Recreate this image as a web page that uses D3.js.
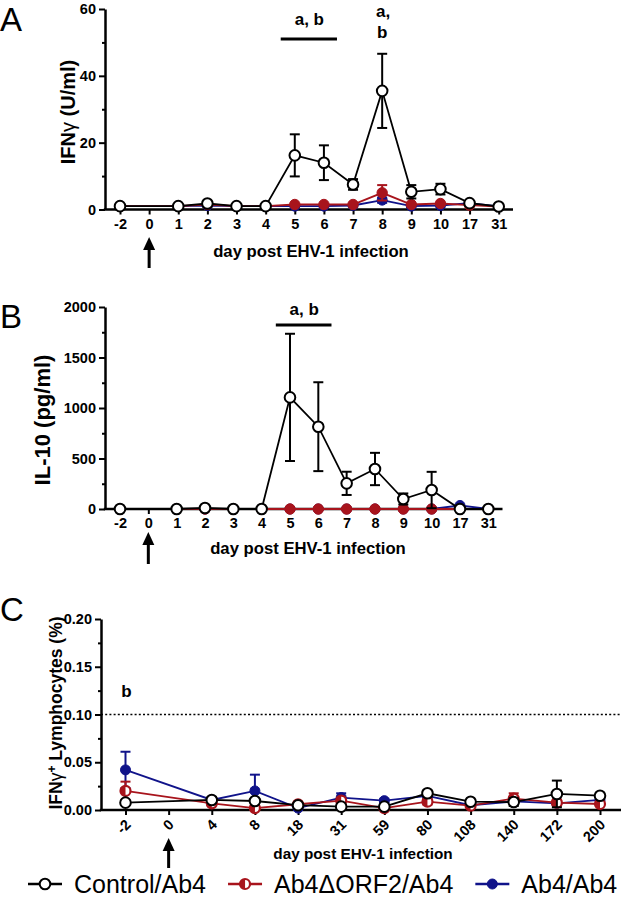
<!DOCTYPE html>
<html><head><meta charset="utf-8">
<script src="https://cdn.jsdelivr.net/npm/d3@7"></script>
<style>
body{margin:0;background:#fff}
svg{display:block}
text{font-family:"Liberation Sans",Arial,sans-serif}
</style>
</head><body>
<svg id="chart" width="625" height="903"></svg>
<script>
// ---------- DATA ----------
const daysAB = ["-2","0","1","2","3","4","5","6","7","8","9","10","17","31"];
const daysC  = ["-2","0","4","8","18","31","59","80","108","140","172","200"];

// Panel A: IFNγ (U/ml)
const ifnControl    = [1.0, null, 1.0, 1.8, 1.0, 1.0, 16.2, 14.0, 7.5, 35.5, 5.3, 6.1, 1.9, 0.9];
const ifnControlErr = [0, null, 0, 0, 0, 0, 6.3, 5.2, 1.6, 11.1, 2.0, 1.6, 0, 0];
const ifnOrf2       = [1.0, null, 1.0, 1.5, 1.0, 1.0, 1.5, 1.5, 1.5, 5.0, 1.5, 1.8, 1.3, 0.9];
const ifnOrf2Err    = [0, null, 0, 0, 0, 0, 0, 0, 0, 2.3, 0, 0, 0, 0];
const ifnAb4        = [1.0, null, 1.0, 1.2, 1.0, 1.0, 1.0, 1.0, 1.2, 2.8, 1.0, 1.2, 1.9, 0.9];
const ifnAb4Err     = [0, null, 0, 0, 0, 0, 0, 0, 0, 0.8, 0, 0, 0, 0];
const ticksA = [0, 20, 40, 60];
const minorA = [10, 30, 50];

// Panel B: IL-10 (pg/ml)
const il10Control    = [0, null, 0, 10, 0, 0, 1105, 815, 254, 396, 99, 188, 0, 0];
const il10ControlErr = [0, null, 0, 0, 0, 0, 630, 440, 115, 160, 55, 180, 0, 0];
const il10Orf2       = [0, null, 0, 0, 0, 0, 0, 0, 0, 0, 0, 0, 0, 0];
const il10Orf2Err    = [0, null, 0, 0, 0, 0, 0, 0, 0, 0, 0, 0, 0, 0];
const il10Ab4        = [0, null, 0, 0, 0, 0, 0, 0, 0, 0, 0, 0, 35, 0];
const il10Ab4Err     = [0, null, 0, 0, 0, 0, 0, 0, 0, 0, 0, 0, 0, 0];
const ticksB = [0, 500, 1000, 1500, 2000];
const minorB = [250, 750, 1250, 1750];

// Panel C: IFNγ+ lymphocytes (%)
const lymControl    = [0.0077, null, 0.0105, 0.0094, 0.005, 0.0035, 0.0035, 0.0175, 0.0087, 0.0083, 0.0168, 0.015];
const lymControlErr = [0.001, null, 0.003, 0.002, 0.001, 0.001, 0.001, 0.003, 0.001, 0.004, 0.014, 0.002];
const lymOrf2       = [0.020, null, 0.007, 0.002, 0.006, 0.0098, 0.002, 0.0087, 0.0045, 0.012, 0.0077, 0.0063];
const lymOrf2Err    = [0.0097, null, 0.002, 0.003, 0.001, 0.003, 0.001, 0.003, 0.001, 0.0055, 0.003, 0.002];
const lymAb4        = [0.042, null, 0.0105, 0.020, 0.002, 0.013, 0.0098, 0.0147, 0.005, 0.009, 0.007, 0.0105];
const lymAb4Err     = [0.019, null, 0.003, 0.017, 0.002, 0.0045, 0.002, 0.003, 0.001, 0.002, 0.002, 0.002];
const ticksC = [0, 0.05, 0.10, 0.15, 0.20];
const minorC = [0.025, 0.075, 0.125, 0.175];
const thresholdC = 0.10;

const legendLabels = ["Control/Ab4", "Ab4\u0394ORF2/Ab4", "Ab4/Ab4"];

// ---------- STYLE ----------
const RED = "#a8141c", BLUE = "#10138a", BLACK = "#000";
const svg = d3.select("#chart");

function halfMarker(g, cx, cy, r, color, sw) {
  g.append("circle").attr("cx", cx).attr("cy", cy).attr("r", r)
    .attr("fill", "#fff").attr("stroke", color).attr("stroke-width", sw);
  g.append("path")
    .attr("d", `M${cx},${cy - r} A${r},${r} 0 0 0 ${cx},${cy + r} Z`)
    .attr("fill", color);
}

function drawMarker(g, kind, cx, cy, solidRed) {
  if (kind === "control") {
    g.append("circle").attr("cx", cx).attr("cy", cy).attr("r", 5.3)
      .attr("fill", "#fff").attr("stroke", BLACK).attr("stroke-width", 2);
  } else if (kind === "orf2") {
    if (solidRed) {
      g.append("circle").attr("cx", cx).attr("cy", cy).attr("r", 5.2)
        .attr("fill", RED).attr("stroke", RED).attr("stroke-width", 1);
    } else {
      halfMarker(g, cx, cy, 5, RED, 2.2);
    }
  } else {
    g.append("circle").attr("cx", cx).attr("cy", cy).attr("r", 5)
      .attr("fill", BLUE).attr("stroke", BLUE).attr("stroke-width", 1);
  }
}

function drawPanel(cfg) {
  const g = svg.append("g");
  const x = d3.scalePoint().domain(cfg.days).range(cfg.xRange);
  const y = d3.scaleLinear().domain(cfg.yDomain).range(cfg.yRange);

  // y axis
  const ya = g.append("g").attr("transform", `translate(${cfg.axisX0},0)`)
    .call(d3.axisLeft(y).tickValues(cfg.yTicks).tickSize(6).tickSizeOuter(0)
      .tickPadding(3).tickFormat(cfg.yFormat));
  ya.select(".domain").attr("stroke-width", 2.5).attr("stroke", BLACK);
  ya.selectAll(".tick line").attr("stroke-width", 2).attr("stroke", BLACK);
  ya.selectAll(".tick text").attr("font-size", 14.5).attr("font-weight", "bold")
    .attr("fill", BLACK).style("font-family", '"Liberation Sans",Arial,sans-serif');
  const ym = g.append("g").attr("transform", `translate(${cfg.axisX0},0)`)
    .call(d3.axisLeft(y).tickValues(cfg.yMinor).tickSize(3).tickFormat(""));
  ym.select(".domain").remove();
  ym.selectAll(".tick line").attr("stroke-width", 2).attr("stroke", BLACK);

  // x axis
  const y0 = y(0);
  g.append("line").attr("x1", cfg.axisX0 - 1.2).attr("x2", cfg.axisX1)
    .attr("y1", y0).attr("y2", y0).attr("stroke", BLACK).attr("stroke-width", 2.5);
  const xa = g.append("g").attr("transform", `translate(0,${y0})`)
    .call(d3.axisBottom(x).tickSize(5).tickSizeOuter(0).tickPadding(4));
  xa.select(".domain").remove();
  xa.selectAll(".tick line").attr("stroke-width", 2).attr("stroke", BLACK);
  const xt = xa.selectAll(".tick text").attr("font-size", 14.5).attr("font-weight", "bold")
    .attr("fill", BLACK).style("font-family", '"Liberation Sans",Arial,sans-serif');
  if (cfg.rotate) {
    xt.attr("text-anchor", "end").attr("x", 0).attr("y", 0).attr("dy", "0.35em")
      .attr("transform", "translate(2,12) rotate(-45)");
  }

  // threshold line
  if (cfg.threshold != null) {
    g.append("line").attr("x1", cfg.axisX0).attr("x2", cfg.axisX1)
      .attr("y1", y(cfg.threshold)).attr("y2", y(cfg.threshold))
      .attr("stroke", BLACK).attr("stroke-width", 1.6).attr("stroke-dasharray", "2,2.2");
  }

  // series
  const line = d3.line().x(d => x(d.day)).y(d => y(d.v));
  cfg.series.forEach(s => {
    const pts = cfg.days.map((day, i) => ({day, v: s.values[i], e: s.errs[i]}))
      .filter(d => d.v != null);
    const sg = g.append("g");
    pts.filter(d => d.e > 0).forEach(d => {
      const cx = x(d.day);
      const top = y(d.v + d.e), bot = y(Math.max(0, d.v - d.e));
      sg.append("line").attr("x1", cx).attr("x2", cx).attr("y1", top).attr("y2", bot)
        .attr("stroke", s.color).attr("stroke-width", 2);
      [top, bot].forEach(yy => sg.append("line").attr("x1", cx - 5).attr("x2", cx + 5)
        .attr("y1", yy).attr("y2", yy).attr("stroke", s.color).attr("stroke-width", 2));
    });
    sg.append("path").datum(pts).attr("d", line).attr("fill", "none")
      .attr("stroke", s.color).attr("stroke-width", 1.8);
    pts.forEach(d => drawMarker(sg, s.kind, x(d.day), y(d.v), cfg.solidRed));
  });

  // axis titles
  g.append("text").attr("x", cfg.titleX).attr("y", cfg.titleY).attr("text-anchor", "middle")
    .attr("font-size", cfg.titleSize).attr("font-weight", "bold").text("day post EHV-1 infection");
  const yl = g.append("text").attr("transform", `translate(${cfg.ylabX},${cfg.ylabY}) rotate(-90)`)
    .attr("text-anchor", "middle").attr("font-size", cfg.ylabSize).attr("font-weight", "bold");
  cfg.ylab(yl);

  // panel letter
  svg.append("text").attr("x", 0).attr("y", cfg.letterY).attr("font-size", 33)
    .text(cfg.letter);

  // infection arrow at day 0
  const ax = x("0");
  g.append("line").attr("x1", ax).attr("x2", ax).attr("y1", cfg.arrowTop + 10).attr("y2", cfg.arrowBot)
    .attr("stroke", BLACK).attr("stroke-width", 3);
  g.append("path").attr("d", `M${ax},${cfg.arrowTop} L${ax - 6},${cfg.arrowTop + 13} L${ax + 6},${cfg.arrowTop + 13} Z`)
    .attr("fill", BLACK);

  return {g, x, y};
}

// ---------- PANEL A ----------
const pA = drawPanel({
  letter: "A", letterY: 30.5, solidRed: true,
  days: daysAB, xRange: [120, 498.7], axisX0: 105, axisX1: 513,
  yDomain: [0, 60], yRange: [209.5, 9], yTicks: ticksA, yMinor: minorA, yFormat: d3.format("d"),
  series: [
    {kind: "ab4", color: BLUE, values: ifnAb4, errs: ifnAb4Err},
    {kind: "orf2", color: RED, values: ifnOrf2, errs: ifnOrf2Err},
    {kind: "control", color: BLACK, values: ifnControl, errs: ifnControlErr}
  ],
  titleX: 311, titleY: 257, titleSize: 16.7,
  ylabX: 75, ylabY: 112, ylabSize: 20,
  ylab: t => { t.append("tspan").text("IFN"); t.append("tspan").attr("font-weight", "normal").text("\u03b3"); t.append("tspan").text(" (U/ml)"); },
  arrowTop: 237, arrowBot: 268
});
pA.g.append("line").attr("x1", (pA.x("5") + pA.x("4")) / 2 + 0.5).attr("x2", (pA.x("6") + pA.x("7")) / 2 - 1.5)
  .attr("y1", 39).attr("y2", 39).attr("stroke", BLACK).attr("stroke-width", 3);
pA.g.append("text").attr("x", (pA.x("5") + pA.x("6")) / 2).attr("y", 25).attr("text-anchor", "middle")
  .attr("font-size", 17).attr("font-weight", "bold").text("a, b");
pA.g.append("text").attr("x", pA.x("8") + 1).attr("y", 17).attr("text-anchor", "middle")
  .attr("font-size", 17).attr("font-weight", "bold").text("a,");
pA.g.append("text").attr("x", pA.x("8")).attr("y", 38).attr("text-anchor", "middle")
  .attr("font-size", 17).attr("font-weight", "bold").text("b");

// ---------- PANEL B ----------
const pB = drawPanel({
  letter: "B", letterY: 328, solidRed: true,
  days: daysAB, xRange: [120, 488.3], axisX0: 105, axisX1: 502.5,
  yDomain: [0, 2000], yRange: [509, 307], yTicks: ticksB, yMinor: minorB, yFormat: d3.format("d"),
  series: [
    {kind: "ab4", color: BLUE, values: il10Ab4, errs: il10Ab4Err},
    {kind: "orf2", color: RED, values: il10Orf2, errs: il10Orf2Err},
    {kind: "control", color: BLACK, values: il10Control, errs: il10ControlErr}
  ],
  titleX: 308, titleY: 554, titleSize: 16.7,
  ylabX: 50, ylabY: 420, ylabSize: 22,
  ylab: t => t.text("IL-10 (pg/ml)"),
  arrowTop: 532, arrowBot: 564
});
pB.g.append("line").attr("x1", (pB.x("5") + pB.x("4")) / 2).attr("x2", (pB.x("6") + pB.x("7")) / 2 - 1)
  .attr("y1", 325).attr("y2", 325).attr("stroke", BLACK).attr("stroke-width", 3);
pB.g.append("text").attr("x", (pB.x("5") + pB.x("6")) / 2).attr("y", 315).attr("text-anchor", "middle")
  .attr("font-size", 17).attr("font-weight", "bold").text("a, b");

// ---------- PANEL C ----------
const pC = drawPanel({
  letter: "C", letterY: 621, solidRed: false,
  days: daysC, xRange: [125.5, 600], axisX0: 101, axisX1: 621, rotate: true,
  yDomain: [0, 0.2], yRange: [810, 619], yTicks: ticksC, yMinor: minorC, yFormat: d3.format(".2f"),
  threshold: thresholdC,
  series: [
    {kind: "ab4", color: BLUE, values: lymAb4, errs: lymAb4Err},
    {kind: "orf2", color: RED, values: lymOrf2, errs: lymOrf2Err},
    {kind: "control", color: BLACK, values: lymControl, errs: lymControlErr}
  ],
  titleX: 363, titleY: 859, titleSize: 15.3,
  ylabX: 62, ylabY: 713, ylabSize: 17.5,
  ylab: t => { t.append("tspan").text("IFN"); t.append("tspan").attr("font-weight", "normal").text("\u03b3");
               t.append("tspan").attr("dy", -6).attr("font-size", 12).text("+");
               t.append("tspan").attr("dy", 6).text("  Lymphocytes (%)"); },
  arrowTop: 838, arrowBot: 868
});
pC.g.append("text").attr("x", pC.x("-2") + 1).attr("y", 697).attr("text-anchor", "middle")
  .attr("font-size", 17).attr("font-weight", "bold").text("b");

// ---------- LEGEND ----------
const legKinds = ["control", "orf2", "ab4"];
const legColors = [BLACK, RED, BLUE];
const legY = 884;
const lg = svg.append("g");
const lineLen = 34, gapMT = 12, gapTM = 22;
let cursor = 28;
legKinds.forEach((k, i) => {
  const x0 = cursor;
  lg.append("line").attr("x1", x0).attr("x2", x0 + lineLen).attr("y1", legY).attr("y2", legY)
    .attr("stroke", legColors[i]).attr("stroke-width", 2.5);
  drawMarker(lg, k, x0 + lineLen / 2, legY, false);
  const t = lg.append("text").attr("x", x0 + lineLen + gapMT).attr("y", legY + 9).attr("font-size", 25)
    .attr("fill", BLACK).text(legendLabels[i]);
  cursor = x0 + lineLen + gapMT + t.node().getComputedTextLength() + gapTM;
});
</script>
</body></html>
